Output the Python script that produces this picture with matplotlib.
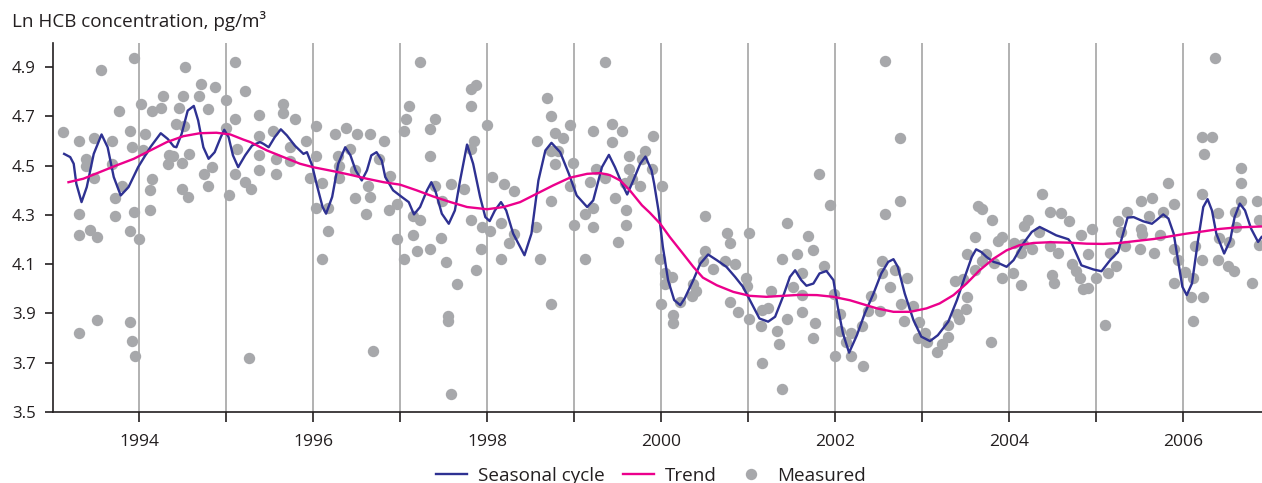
import matplotlib
matplotlib.use("Agg")
import matplotlib.pyplot as plt
import numpy as np

# measured points (decimal year, ln concentration)
measured = [
    (1993.13, 4.635), (1993.31, 4.600), (1993.48, 4.612), (1993.69, 4.600), (1993.56, 4.890),
    (1993.39, 4.528), (1993.39, 4.497), (1993.48, 4.450), (1993.69, 4.508), (1993.80, 4.417),
    (1993.73, 4.370), (1993.31, 4.302), (1993.73, 4.296), (1993.31, 4.220), (1993.44, 4.239),
    (1993.52, 4.209), (1993.77, 4.721), (1993.94, 4.936), (1993.90, 4.642), (1993.92, 4.578),
    (1993.94, 4.310), (1993.90, 4.235), (1994.00, 4.202), (1994.02, 4.752), (1994.07, 4.629),
    (1994.05, 4.562), (1994.15, 4.721), (1994.25, 4.736), (1994.28, 4.782), (1994.15, 4.447),
    (1994.13, 4.400), (1994.13, 4.320), (1994.34, 4.544), (1994.39, 4.540), (1994.33, 4.508),
    (1994.43, 4.671), (1994.46, 4.736), (1994.51, 4.782), (1994.53, 4.900), (1994.52, 4.662),
    (1994.50, 4.509), (1994.57, 4.548), (1994.50, 4.404), (1994.56, 4.371), (1994.71, 4.832),
    (1994.69, 4.782), (1994.87, 4.821), (1994.79, 4.731), (1994.75, 4.465), (1994.84, 4.494),
    (1994.79, 4.417), (1995.00, 4.767), (1995.10, 4.921), (1995.22, 4.802), (1995.10, 4.689),
    (1995.00, 4.654), (1995.13, 4.569), (1995.10, 4.465), (1995.03, 4.382), (1995.22, 4.432),
    (1995.29, 4.404), (1993.31, 3.820), (1993.52, 3.871), (1993.90, 3.866), (1993.92, 3.787),
    (1993.96, 3.728), (1995.26, 3.717),
    (1995.38, 4.705), (1995.38, 4.620), (1995.38, 4.542), (1995.38, 4.481), (1995.54, 4.642),
    (1995.58, 4.528), (1995.58, 4.465), (1995.66, 4.751), (1995.66, 4.713), (1995.74, 4.578),
    (1995.74, 4.519), (1995.79, 4.690), (1995.92, 4.602), (1996.04, 4.661), (1996.04, 4.539),
    (1995.97, 4.450), (1996.10, 4.431), (1996.04, 4.328), (1996.17, 4.328), (1996.17, 4.235),
    (1996.10, 4.122), (1996.25, 4.628), (1996.38, 4.652), (1996.43, 4.569), (1996.29, 4.539),
    (1996.30, 4.497), (1996.30, 4.450), (1996.50, 4.628), (1996.48, 4.482), (1996.48, 4.370),
    (1996.66, 4.628), (1996.63, 4.417), (1996.66, 4.374), (1996.61, 4.304), (1996.82, 4.602),
    (1996.76, 4.528), (1996.88, 4.458), (1996.87, 4.318), (1996.97, 4.343), (1996.97, 4.202),
    (1997.04, 4.122), (1997.04, 4.642), (1997.07, 4.690), (1997.10, 4.744), (1997.23, 4.921),
    (1997.15, 4.296), (1997.23, 4.279), (1997.15, 4.220), (1997.20, 4.154), (1997.35, 4.651),
    (1997.40, 4.689), (1997.35, 4.539), (1997.40, 4.416), (1997.48, 4.355), (1997.47, 4.205),
    (1997.35, 4.160), (1997.53, 4.109), (1997.59, 4.425), (1997.55, 3.891), (1997.55, 3.867),
    (1996.69, 3.747), (1997.58, 3.571),
    (1997.66, 4.021), (1997.81, 4.812), (1997.87, 4.828), (1997.81, 4.744), (1997.85, 4.600),
    (1997.81, 4.569), (1997.73, 4.404), (1997.81, 4.281), (1997.94, 4.251), (1997.93, 4.160),
    (1997.87, 4.078), (1998.00, 4.665), (1998.06, 4.456), (1998.19, 4.427), (1998.31, 4.396),
    (1998.03, 4.235), (1998.16, 4.267), (1998.31, 4.221), (1998.25, 4.185), (1998.16, 4.122),
    (1998.57, 4.602), (1998.56, 4.251), (1998.61, 4.122), (1998.69, 4.775), (1998.74, 4.702),
    (1998.78, 4.632), (1998.87, 4.612), (1998.74, 4.558), (1998.81, 4.558), (1998.78, 4.508),
    (1998.95, 4.666), (1998.99, 4.509), (1998.95, 4.416), (1998.74, 4.355), (1998.74, 3.939),
    (1999.00, 4.258), (1999.13, 4.305), (1999.22, 4.328), (1999.22, 4.251), (1999.13, 4.122),
    (1999.18, 4.433), (1999.25, 4.487), (1999.35, 4.920), (1999.22, 4.640), (1999.43, 4.671),
    (1999.43, 4.598), (1999.55, 4.640), (1999.35, 4.448), (1999.47, 4.370), (1999.50, 4.190),
    (1999.60, 4.318), (1999.60, 4.258), (1999.59, 4.429), (1999.63, 4.539), (1999.63, 4.487),
    (1999.67, 4.447), (1999.76, 4.417), (1999.78, 4.528), (1999.81, 4.558), (1999.91, 4.620),
    (1999.90, 4.487),
    (2000.01, 4.419), (1999.99, 4.122), (2000.05, 4.062), (2000.13, 4.049), (2000.05, 4.020),
    (2000.00, 3.939), (2000.22, 3.945), (2000.14, 3.893), (2000.14, 3.860), (2000.50, 4.297),
    (2000.51, 4.154), (2000.48, 4.113), (2000.37, 4.018), (2000.40, 3.991), (2000.35, 3.970),
    (2000.60, 4.081), (2000.76, 4.228), (2000.79, 4.185), (2000.73, 4.114), (2000.85, 4.102),
    (2000.79, 3.944), (2000.88, 3.907), (2001.01, 4.228), (2000.98, 4.045), (2000.99, 4.012),
    (2001.01, 3.878), (2001.16, 3.912), (2001.23, 3.922), (2001.26, 3.991), (2001.15, 3.847),
    (2001.33, 3.829), (2001.36, 3.774), (2001.16, 3.697), (2001.39, 3.591), (2001.45, 4.266),
    (2001.39, 4.122), (2001.56, 4.143), (2001.52, 4.006), (2001.62, 4.062), (2001.62, 3.974),
    (2001.45, 3.878), (2001.62, 3.907), (2001.69, 4.214), (2001.75, 4.159), (2001.77, 3.860),
    (2001.75, 3.801), (2001.81, 4.465), (2001.87, 4.093), (2001.94, 4.339), (2001.99, 3.980),
    (2002.06, 3.899), (2002.05, 3.829), (2002.13, 3.784), (2002.18, 3.818), (2002.18, 3.728),
    (2002.00, 3.728),
    (2002.32, 3.684), (2002.31, 3.848), (2002.38, 3.909), (2002.41, 3.970), (2002.51, 3.910),
    (2002.57, 4.924), (2002.75, 4.613), (2002.75, 4.355), (2002.57, 4.302), (2002.54, 4.112),
    (2002.54, 4.062), (2002.63, 4.008), (2002.69, 4.076), (2002.83, 4.045), (2002.76, 3.937),
    (2002.79, 3.870), (2002.89, 3.930), (2002.96, 3.864), (2002.95, 3.801), (2003.03, 3.821),
    (2003.05, 3.784), (2003.17, 3.743), (2003.23, 3.775), (2003.30, 3.805), (2003.30, 3.852),
    (2003.40, 3.899), (2003.42, 3.878), (2003.50, 3.916), (2003.38, 4.032), (2003.47, 4.039),
    (2003.51, 3.967), (2003.51, 4.143), (2003.61, 4.209), (2003.61, 4.078), (2003.64, 4.337),
    (2003.69, 4.324), (2003.69, 4.113), (2003.80, 4.281), (2003.73, 4.143), (2003.82, 4.105),
    (2003.79, 3.784), (2003.87, 4.195), (2003.92, 4.209), (2003.92, 4.045), (2004.05, 4.187),
    (2004.04, 4.062), (2004.13, 4.014), (2004.13, 4.147), (2004.16, 4.181), (2004.17, 4.254),
    (2004.22, 4.281), (2004.26, 4.163), (2004.34, 4.231), (2004.38, 4.386), (2004.47, 4.312),
    (2004.47, 4.174), (2004.49, 4.055), (2004.51, 4.025),
    (2004.56, 4.147), (2004.60, 4.308), (2004.69, 4.277), (2004.72, 4.100), (2004.77, 4.074),
    (2004.81, 4.045), (2004.82, 4.220), (2004.95, 4.244), (2004.90, 4.143), (2004.85, 3.997),
    (2004.90, 4.001), (2005.00, 4.045), (2005.10, 3.853), (2005.13, 4.062), (2005.16, 4.147),
    (2005.23, 4.091), (2005.25, 4.274), (2005.28, 4.231), (2005.33, 4.172), (2005.35, 4.312),
    (2005.51, 4.355), (2005.51, 4.244), (2005.50, 4.163), (2005.53, 4.221), (2005.61, 4.296),
    (2005.64, 4.370), (2005.66, 4.147), (2005.73, 4.220), (2005.77, 4.312), (2005.83, 4.429),
    (2005.89, 4.344), (2005.89, 4.162), (2005.94, 4.116), (2005.89, 4.025), (2006.02, 4.068),
    (2006.11, 4.045), (2006.09, 3.967), (2006.11, 3.870), (2006.13, 4.172), (2006.21, 4.386),
    (2006.21, 4.118), (2006.23, 3.968), (2006.21, 4.617), (2006.33, 4.617), (2006.24, 4.548),
    (2006.36, 4.938), (2006.40, 4.308), (2006.41, 4.208), (2006.40, 4.116), (2006.53, 4.190),
    (2006.52, 4.093), (2006.58, 4.070), (2006.59, 4.312), (2006.66, 4.489), (2006.66, 4.429),
    (2006.66, 4.356), (2006.61, 4.251), (2006.79, 4.024), (2006.85, 4.356), (2006.87, 4.281),
    (2006.87, 4.177),
]

seasonal = [
    (1993.14, 4.548), (1993.21, 4.535), (1993.25, 4.508), (1993.28, 4.427), (1993.34, 4.352),
    (1993.40, 4.413), (1993.48, 4.548), (1993.57, 4.627), (1993.64, 4.575), (1993.71, 4.454),
    (1993.79, 4.379), (1993.88, 4.413), (1993.99, 4.494), (1994.13, 4.575), (1994.25, 4.632),
    (1994.33, 4.609), (1994.40, 4.578), (1994.43, 4.575), (1994.49, 4.629), (1994.56, 4.724),
    (1994.63, 4.743), (1994.68, 4.684), (1994.74, 4.575), (1994.80, 4.528), (1994.87, 4.555),
    (1994.94, 4.616), (1994.98, 4.646), (1995.03, 4.616), (1995.08, 4.542), (1995.14, 4.494),
    (1995.22, 4.542), (1995.30, 4.582), (1995.39, 4.596), (1995.43, 4.589), (1995.49, 4.575),
    (1995.56, 4.616), (1995.63, 4.648), (1995.70, 4.623), (1995.79, 4.582), (1995.89, 4.548),
    (1995.93, 4.555), (1995.99, 4.501), (1996.04, 4.427), (1996.11, 4.332), (1996.15, 4.305),
    (1996.22, 4.373), (1996.29, 4.508), (1996.37, 4.575), (1996.43, 4.542), (1996.49, 4.481),
    (1996.56, 4.440), (1996.62, 4.481), (1996.67, 4.542), (1996.73, 4.555), (1996.79, 4.521),
    (1996.83, 4.454), (1996.92, 4.400), (1997.02, 4.373), (1997.10, 4.352), (1997.16, 4.302),
    (1997.23, 4.332), (1997.31, 4.400), (1997.36, 4.433), (1997.41, 4.393), (1997.48, 4.305),
    (1997.56, 4.264), (1997.63, 4.318), (1997.69, 4.440), (1997.77, 4.586), (1997.84, 4.508),
    (1997.92, 4.373), (1997.98, 4.291), (1998.03, 4.275), (1998.09, 4.318), (1998.16, 4.352),
    (1998.22, 4.318), (1998.30, 4.224), (1998.43, 4.136), (1998.51, 4.224), (1998.59, 4.440),
    (1998.67, 4.562), (1998.74, 4.593), (1998.84, 4.555), (1998.94, 4.467), (1999.03, 4.379),
    (1999.15, 4.332), (1999.22, 4.359), (1999.32, 4.494), (1999.40, 4.544), (1999.47, 4.494),
    (1999.55, 4.427), (1999.61, 4.383), (1999.68, 4.440), (1999.76, 4.508), (1999.82, 4.537),
    (1999.89, 4.481), (1999.92, 4.427), (1999.97, 4.318), (2000.02, 4.170), (2000.08, 4.035),
    (2000.15, 3.954), (2000.22, 3.933), (2000.27, 3.960), (2000.37, 4.035), (2000.45, 4.102),
    (2000.54, 4.139), (2000.64, 4.116), (2000.75, 4.089), (2000.85, 4.048), (2000.94, 4.008),
    (2001.00, 3.967), (2001.06, 3.926), (2001.13, 3.879), (2001.23, 3.866), (2001.31, 3.886),
    (2001.40, 3.967), (2001.48, 4.048), (2001.54, 4.075), (2001.61, 4.035), (2001.67, 4.012),
    (2001.75, 4.021), (2001.82, 4.062), (2001.90, 4.072), (2001.98, 4.035), (2002.03, 3.926),
    (2002.09, 3.818), (2002.16, 3.740), (2002.25, 3.811), (2002.34, 3.899), (2002.44, 3.980),
    (2002.53, 4.062), (2002.61, 4.109), (2002.67, 4.120), (2002.72, 4.089), (2002.80, 3.980),
    (2002.90, 3.872), (2002.99, 3.805), (2003.09, 3.787), (2003.18, 3.811), (2003.30, 3.866),
    (2003.40, 3.954), (2003.49, 4.048), (2003.57, 4.129), (2003.62, 4.160), (2003.68, 4.149),
    (2003.74, 4.129), (2003.82, 4.109), (2003.89, 4.102), (2003.97, 4.089), (2004.05, 4.116),
    (2004.16, 4.183), (2004.26, 4.231), (2004.35, 4.251), (2004.43, 4.237), (2004.54, 4.217),
    (2004.68, 4.201), (2004.72, 4.183), (2004.83, 4.095), (2004.97, 4.078), (2005.06, 4.071),
    (2005.16, 4.116), (2005.25, 4.149), (2005.36, 4.289), (2005.43, 4.291), (2005.54, 4.274),
    (2005.64, 4.264), (2005.69, 4.278), (2005.77, 4.302), (2005.83, 4.285), (2005.89, 4.224),
    (2005.94, 4.116), (2005.99, 4.008), (2006.04, 3.974), (2006.10, 4.021), (2006.17, 4.197),
    (2006.23, 4.332), (2006.28, 4.364), (2006.33, 4.318), (2006.38, 4.224), (2006.47, 4.143),
    (2006.54, 4.197), (2006.59, 4.291), (2006.65, 4.346), (2006.71, 4.318), (2006.78, 4.244),
    (2006.86, 4.190), (2006.90, 4.210),
]

trend = [
    (1993.19, 4.433), (1993.36, 4.447), (1993.55, 4.474), (1993.74, 4.501), (1993.94, 4.528),
    (1994.13, 4.562), (1994.32, 4.596), (1994.51, 4.620), (1994.70, 4.632), (1994.89, 4.634),
    (1995.05, 4.627), (1995.20, 4.606), (1995.28, 4.596), (1995.47, 4.562), (1995.66, 4.535),
    (1995.85, 4.508), (1996.00, 4.494), (1996.23, 4.478), (1996.43, 4.463), (1996.62, 4.447),
    (1996.81, 4.433), (1997.00, 4.423), (1997.19, 4.400), (1997.38, 4.375), (1997.58, 4.352),
    (1997.77, 4.332), (1998.00, 4.323), (1998.19, 4.332), (1998.38, 4.352), (1998.57, 4.386),
    (1998.76, 4.420), (1998.95, 4.451), (1999.15, 4.467), (1999.30, 4.470), (1999.41, 4.462),
    (1999.53, 4.440), (1999.64, 4.400), (1999.78, 4.339), (1999.87, 4.309), (1999.99, 4.264),
    (2000.10, 4.210), (2000.25, 4.143), (2000.37, 4.089), (2000.48, 4.045), (2000.64, 4.014),
    (2000.83, 3.987), (2001.02, 3.971), (2001.21, 3.967), (2001.40, 3.971), (2001.59, 3.975),
    (2001.79, 3.974), (2001.98, 3.967), (2002.17, 3.953), (2002.32, 3.937), (2002.48, 3.920),
    (2002.67, 3.906), (2002.86, 3.906), (2003.05, 3.920), (2003.20, 3.940), (2003.36, 3.974),
    (2003.51, 4.021), (2003.66, 4.075), (2003.82, 4.122), (2003.97, 4.156), (2004.12, 4.177),
    (2004.28, 4.186), (2004.47, 4.189), (2004.70, 4.187), (2004.89, 4.183), (2005.08, 4.182),
    (2005.27, 4.186), (2005.46, 4.194), (2005.66, 4.202), (2005.85, 4.213), (2006.04, 4.224),
    (2006.23, 4.233), (2006.42, 4.243), (2006.61, 4.249), (2006.90, 4.253),
]

years = list(range(1994, 2007))
ytick_vals = [3.5, 3.7, 3.9, 4.1, 4.3, 4.5, 4.7, 4.9]

plt.rcParams['font.family'] = ['Open Sans', 'DejaVu Sans']
dark = '#231F20'

fig = plt.figure(figsize=(12.62, 4.83), dpi=100)
ax = fig.add_axes([0.0422, 0.1476, 0.9578, 0.764])

mt, mv = np.array(measured).T
st, sv = np.array(seasonal).T
tt, tv = np.array(trend).T

# year grid lines
for yr in years:
    ax.axvline(yr, color='#9c9c9c', lw=1.1, zorder=1)

pts, = ax.plot(mt, mv, 'o', ms=8.2, color='#A7A8AB', mec='none', zorder=2, label='Measured')
cyc, = ax.plot(st, sv, color='#2E3192', lw=1.7, zorder=3, label='Seasonal cycle',
               solid_joinstyle='round')
trd, = ax.plot(tt, tv, color='#EC008C', lw=1.7, zorder=4, label='Trend',
               solid_joinstyle='round')

ax.set_xlim(1993.015, 2006.905)
ax.set_ylim(3.5, 5.0)

ax.set_xticks(years)
ax.set_xticklabels([str(y) if y % 2 == 0 else '' for y in years])
ax.set_yticks(ytick_vals)
ax.set_yticklabels(['%.1f' % v for v in ytick_vals])

for s in ['top', 'right']:
    ax.spines[s].set_visible(False)
for s in ['left', 'bottom']:
    ax.spines[s].set_color(dark)
    ax.spines[s].set_linewidth(1.2)

ax.tick_params(axis='x', direction='out', length=7, width=1.2, color=dark,
               labelsize=12.6, labelcolor=dark, pad=9)
ax.tick_params(axis='y', direction='out', length=5.5, width=1.2, color=dark,
               labelsize=12.2, labelcolor=dark, pad=7)

fig.text(0.0095, 0.957, 'Ln HCB concentration, pg/m\u00b3', fontsize=13.6, color=dark,
         ha='left', va='center')

fig.legend(handles=[cyc, trd, pts], loc='center', bbox_to_anchor=(0.516, 0.015),
           ncol=3, frameon=False, fontsize=13.6, handlelength=1.6, handletextpad=0.6,
           columnspacing=1.0, labelcolor=dark)

fig.savefig('out.png', dpi=100)
